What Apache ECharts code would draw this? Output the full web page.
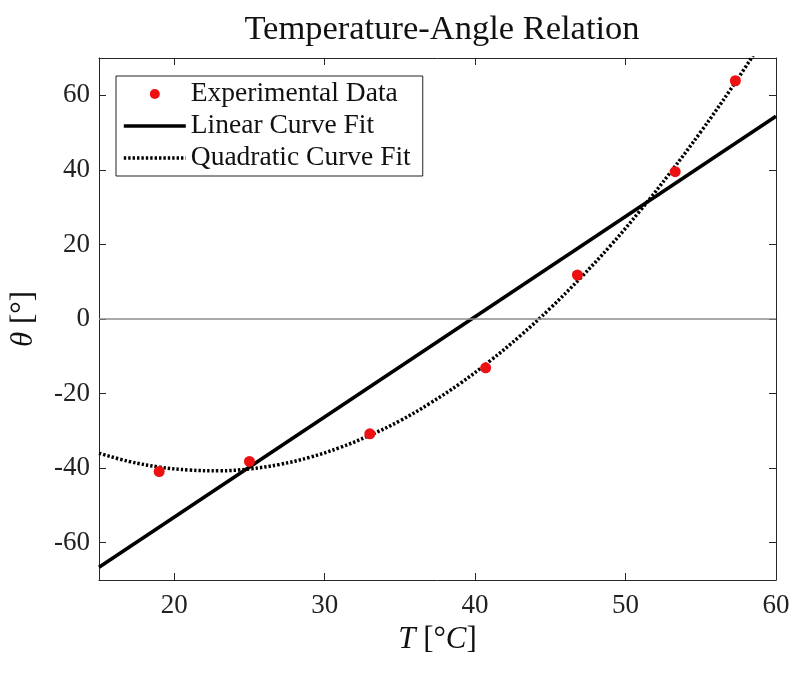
<!DOCTYPE html>
<html>
<head>
<meta charset="utf-8">
<script src="https://cdn.jsdelivr.net/npm/echarts@6/dist/echarts.min.js"></script>
<style>html,body{margin:0;padding:0;background:#fff;}#c{width:800px;height:676px;}</style>
</head>
<body>
<div id="c"></div>
<script>
// Experimental data
var tempData = [19.0, 25.0, 33.0, 40.7, 46.8, 53.3, 57.3];
var angleData = [-40.9, -38.2, -30.8, -13.1, 11.8, 39.5, 63.9];
// Linear curve fit (read at plot edges)
var linT = [15, 60];
var linTheta = [-66.6, 54.4];
// Quadratic curve fit
var quadT = [15, 17, 19, 21, 23, 25, 27, 29, 31, 33, 35, 37, 39, 41, 43, 45, 47, 49, 51, 53, 55, 57, 59];
var quadTheta = [-36.0, -38.2, -39.7, -40.5, -40.7, -40.2, -39.0, -37.1, -34.5, -31.2, -27.3, -22.6, -17.3, -11.2, -4.5, 2.9, 11.0, 19.7, 29.2, 39.4, 50.2, 61.7, 73.9];
var xTicks = [20, 30, 40, 50, 60];
var yTicks = [-60, -40, -20, 0, 20, 40, 60];
var seriesNames = ['Experimental Data', 'Linear Curve Fit', 'Quadratic Curve Fit'];

function pairs(a, b) { return a.map(function (v, i) { return [v, b[i]]; }); }

var FONT = 'Liberation Serif';
var AX = '#262626';
var chart = echarts.init(document.getElementById('c'));
var axisCommon = {
  type: 'value',
  axisLine: { show: true, onZero: false, lineStyle: { color: AX, width: 1 } },
  axisTick: { show: true, inside: true, length: 7, lineStyle: { color: AX } },
  splitLine: { show: false }
};
var hiddenMark = { opacity: 0, borderWidth: 0 };
var solidStyle = { color: '#000', width: 3.6, type: 'solid' };
var dotStyle = { color: '#000', width: 3.5, type: [2.4, 2.0], cap: 'butt' };
chart.setOption({
  backgroundColor: '#fff',
  animation: false,
  title: {
    text: 'Temperature-Angle Relation',
    left: 437, top: 7, textAlign: 'center',
    textStyle: { fontFamily: FONT, fontWeight: 'normal', fontSize: 34.5, color: '#111' }
  },
  grid: { left: 97, right: 24, top: 58, bottom: 96 },
  legend: {
    orient: 'vertical',
    left: 116, top: 76,
    data: [
      { name: seriesNames[0] },
      { name: seriesNames[1], itemStyle: hiddenMark, lineStyle: solidStyle },
      { name: seriesNames[2], itemStyle: hiddenMark, lineStyle: dotStyle }
    ],
    itemWidth: 62, itemHeight: 10, itemGap: 0,
    padding: [2, 12, 2, 6],
    borderColor: '#222', borderWidth: 1, backgroundColor: '#fff',
    textStyle: { fontFamily: FONT, fontSize: 27.5, color: '#111', lineHeight: 32 }
  },
  xAxis: [
    Object.assign({}, axisCommon, {
      min: 15, max: 60, minInterval: 10, maxInterval: 10,
      position: 'bottom',
      name: '{i|T} [°{i|C}]', nameLocation: 'middle', nameGap: 44,
      nameTextStyle: { fontFamily: FONT, fontSize: 31, color: '#111',
        rich: { i: { fontFamily: FONT, fontStyle: 'italic', fontSize: 31, color: '#111' } } },
      axisLabel: { fontFamily: FONT, fontSize: 27, color: '#222', margin: 12,
        formatter: function (v) { return xTicks.indexOf(v) >= 0 ? String(v) : ''; } }
    }),
    Object.assign({}, axisCommon, {
      min: 15, max: 60, minInterval: 10, maxInterval: 10, position: 'top',
      axisLabel: { show: false }
    })
  ],
  yAxis: [
    Object.assign({}, axisCommon, {
      min: -70, max: 70, minInterval: 20, maxInterval: 20,
      position: 'left',
      name: '{i|θ} [°]', nameLocation: 'middle', nameRotate: 90, nameGap: 60,
      nameTextStyle: { fontFamily: FONT, fontSize: 31, color: '#111',
        rich: { i: { fontFamily: FONT, fontStyle: 'italic', fontSize: 31, color: '#111' } } },
      axisLabel: { fontFamily: FONT, fontSize: 27, color: '#222', margin: 9,
        formatter: function (v) { return yTicks.indexOf(v) >= 0 ? String(v) : ''; } }
    }),
    Object.assign({}, axisCommon, {
      min: -70, max: 70, minInterval: 20, maxInterval: 20, position: 'right',
      axisLabel: { show: false }
    })
  ],
  series: [
    {
      name: seriesNames[1], type: 'line', xAxisIndex: 0, yAxisIndex: 0,
      data: pairs(linT, linTheta), showSymbol: false, symbol: 'none', clip: true, z: 3,
      itemStyle: { color: '#000' },
      lineStyle: solidStyle,
      markLine: {
        silent: true, symbol: ['none', 'none'], label: { show: false },
        lineStyle: { color: '#8c8c8c', width: 1.5, type: 'solid' },
        data: [{ yAxis: 0 }]
      }
    },
    {
      name: seriesNames[2], type: 'line', xAxisIndex: 0, yAxisIndex: 0,
      data: pairs(quadT, quadTheta), showSymbol: false, symbol: 'none', clip: true, smooth: 0.4, z: 4,
      itemStyle: { color: '#000' },
      lineStyle: dotStyle
    },
    {
      name: seriesNames[0], type: 'scatter', xAxisIndex: 0, yAxisIndex: 0,
      data: pairs(tempData, angleData), symbol: 'circle', symbolSize: 11, z: 5,
      itemStyle: { color: '#ee1111', opacity: 1 }
    }
  ]
});
</script>
</body>
</html>
